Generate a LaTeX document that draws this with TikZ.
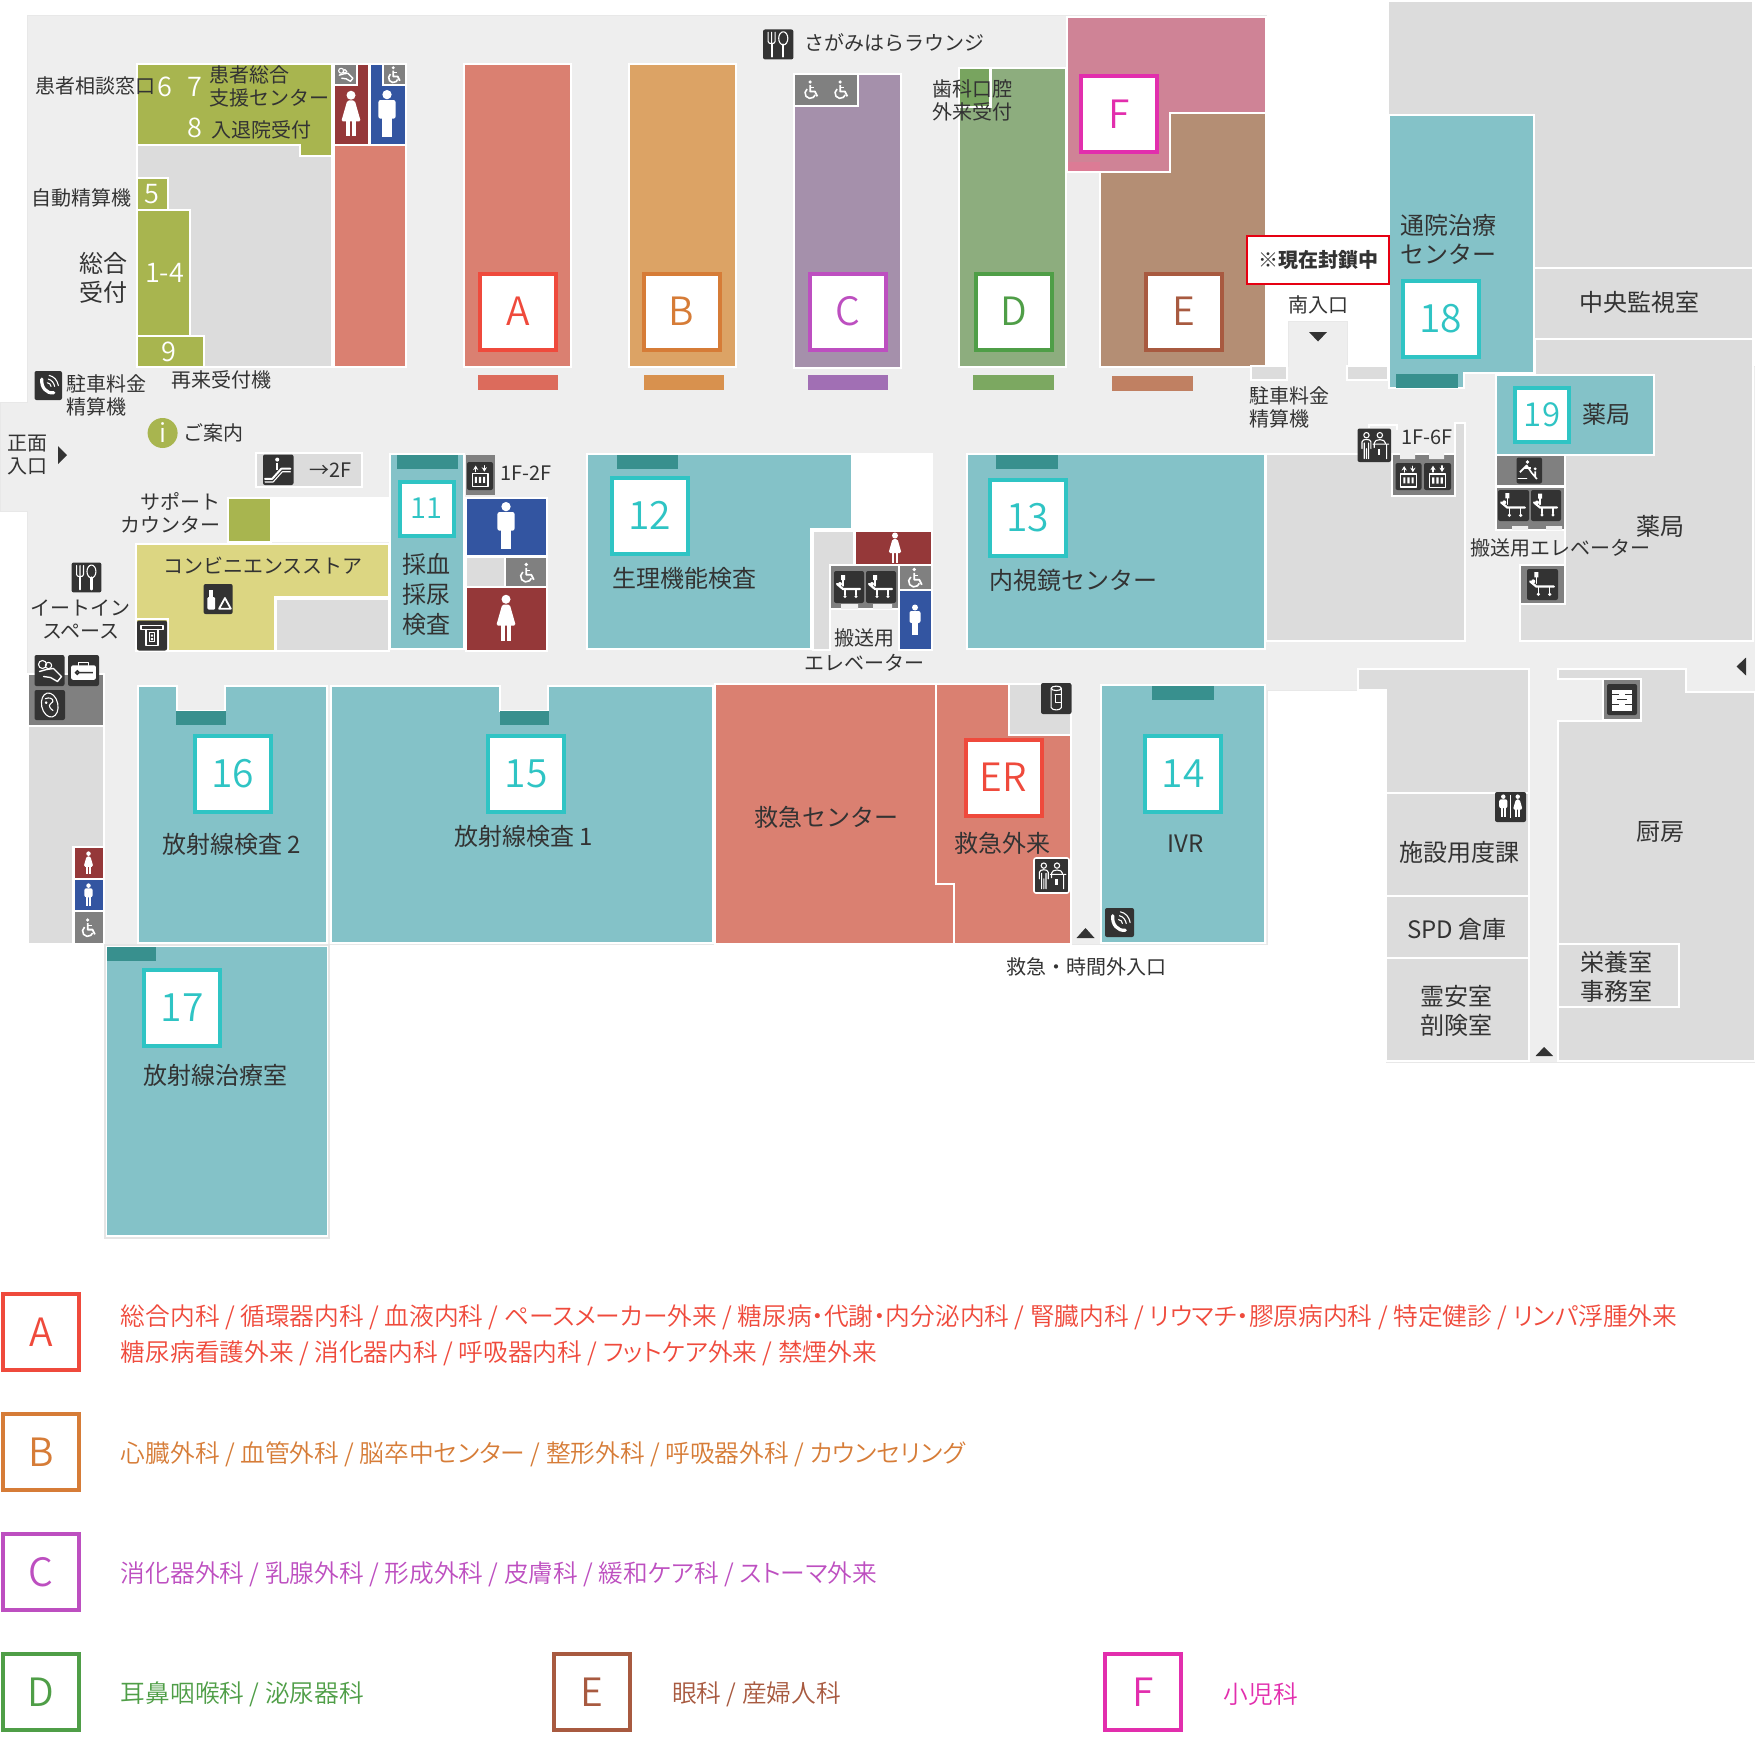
\documentclass[tikz,border=0pt]{standalone}
\usepackage{fontspec}
\setmainfont{Noto Sans CJK JP}
\newfontfamily\lightf[RawFeature=+palt]{Noto Sans CJK JP DemiLight}
\newfontfamily\lightn{Noto Sans CJK JP DemiLight}
\usetikzlibrary{arrows.meta}
\definecolor{floorc}{HTML}{EEEEEE}
\definecolor{greyr}{HTML}{DCDCDC}
\definecolor{midg}{HTML}{808080}
\definecolor{darki}{HTML}{333333}
\definecolor{ink}{HTML}{333333}
\definecolor{tealr}{HTML}{84C2C8}
\definecolor{tealb}{HTML}{38908E}
\definecolor{teald}{HTML}{2FC4C4}
\definecolor{greenr}{HTML}{A8B54F}
\definecolor{redr}{HTML}{DA8071}
\definecolor{maroon}{HTML}{953839}
\definecolor{bluer}{HTML}{3355A1}
\definecolor{yellr}{HTML}{DCD682}
\definecolor{cA}{HTML}{EF4A3C}
\definecolor{cB}{HTML}{D67C37}
\definecolor{cC}{HTML}{BD4FC0}
\definecolor{cD}{HTML}{4F9E47}
\definecolor{cE}{HTML}{A85A40}
\definecolor{cF}{HTML}{E22EAD}
\definecolor{wardB}{HTML}{DCA365}
\definecolor{wardC}{HTML}{A590AB}
\definecolor{wardD}{HTML}{8DAD7E}
\definecolor{wardDd}{HTML}{78A45F}
\definecolor{wardE}{HTML}{B48E74}
\definecolor{wardF}{HTML}{CF8396}
\definecolor{wardFd}{HTML}{DC7B95}
\definecolor{barA}{HTML}{DC6B5C}
\definecolor{barB}{HTML}{D8914E}
\definecolor{barC}{HTML}{A16FB4}
\definecolor{barD}{HTML}{7CA861}
\definecolor{barE}{HTML}{C08062}
\definecolor{closedred}{HTML}{E60012}
\newcounter{nn}
\tikzset{
  room/.style={draw=white,line width=1.1pt,line join=miter},
  lab/.style={inner sep=0pt,text=ink,font=\fontsize{10}{11.5}\selectfont,align=left,anchor=center},
  big/.style={font=\fontsize{12}{14.5}\selectfont},
  lef/.style={anchor=west},
  badgebox/.style={draw=#1,text=#1,fill=white,line width=2pt,inner sep=0pt},
  gl/.style={white,line width=.55pt,line cap=round,line join=round},
  whitenum/.style={inner sep=0pt,text=white,font=\lightn\fontsize{13.5}{15}\selectfont},
  legend/.style={inner sep=0pt,anchor=west,align=left,font=\lightf\fontsize{12.35}{18}\selectfont}
}
\newcommand\Lab[4][]{\stepcounter{nn}\node[lab,#1] (t\thenn) at (#2,#3) {#4};}
\newcommand\Badge[6][19.5]{\stepcounter{nn}\node[badgebox=#5,minimum width=#4pt,minimum height=#4pt,font=\lightn\fontsize{#1}{20}\selectfont] (b\thenn) at (#2,#3) {\raisebox{-.6pt}{#6}};}
\newcommand\Rm[5]{\draw[room,fill=#1] (#2,#3) rectangle (#4,#5);}
\newcommand\Fl[5]{\fill[#1] (#2,#3) rectangle (#4,#5);}
\newcommand\Ico[5]{\fill[darki,rounded corners=1pt] (#1,#2) rectangle (#3,#4);
  \begin{scope}[shift={({(#1+#3)/2},{(#2+#4)/2})},scale={(#3-#1)/30}]#5\end{scope}}
\newcommand\Male[3]{\begin{scope}[shift={(#1,#2)},scale=#3]
  \fill[white] (0,-12.5) circle (3);
  \fill[white,rounded corners=1pt] (-5.5,-9) rectangle (5.5,3);
  \fill[white] (-3.2,2) rectangle (-.3,15);\fill[white] (.3,2) rectangle (3.2,15);
  \end{scope}}
\newcommand\Female[3]{\begin{scope}[shift={(#1,#2)},scale=#3]
  \fill[white] (0,-12.5) circle (3);
  \fill[white,rounded corners=.8pt] (-2.5,-9) -- (2.5,-9) -- (6.5,5) -- (-6.5,5) -- cycle;
  \fill[white] (-3.2,4) rectangle (-.7,15);\fill[white] (.7,4) rectangle (3.2,15);
  \end{scope}}
\newcommand\Wheel[3]{\begin{scope}[shift={(#1,#2)},scale=#3]
  \fill[white] (-1,-10) circle (2.2);
  \draw[white,line width=.9pt,line join=round] (-1,-6) -- (-1,2) -- (5,2) -- (8,8);
  \draw[white,line width=.6pt] (-1,-3) -- (4,-3);
  \draw[white,line width=.8pt] (-4.9,-1.2) arc[start angle=-127,end angle=-340,radius=6.5];
  \end{scope}}
\newcommand\gCut{\draw[gl] (-10,-12)--(-10,-3) .. controls (-10,0) and (-3,0) .. (-3,-3) -- (-3,-12) (-6.5,-12)--(-6.5,-2);
  \draw[gl,line width=1.1pt] (-6.5,0)--(-6.5,12);
  \draw[gl] (5,-6) ellipse [x radius=4.5,y radius=6.5];
  \draw[gl,line width=1.1pt] (5,0)--(5,12);}
\newcommand\gPhone{\draw[white,line width=1.6pt,line cap=round] (-7,-7) .. controls (-8,2) and (-2,9) .. (6,8);
  \draw[gl] (0,-7) .. controls (4,-6) and (6,-3) .. (7,1) (1,-11) .. controls (6,-10) and (10,-6) .. (11,0) (-1,-3) .. controls (1,-3) and (3,-1) .. (3,1);}
\newcommand\gStretch{\draw[white,line width=1.1pt,line cap=round,line join=round] (-12,-3)--(-6,2)--(11,2);
  \draw[gl] (-6,-10)--(-6,-1) (-4,2)--(-4,8) (7,2)--(7,8);
  \fill[white] (-8,-12) rectangle (-4,-7) (-9,-3) circle (2) (-4,9.5) circle (1.7) (7,9.5) circle (1.7);}
\newcommand\gLift{\draw[gl,-{Stealth[length=2.2pt,width=2.6pt]}] (-5,-5)--(-5,-12);
  \draw[gl,-{Stealth[length=2.2pt,width=2.6pt]}] (5,-12)--(5,-5);
  \draw[gl,line width=.7pt] (-9,-3) rectangle (9,12);
  \fill[white] (-6,1) rectangle (-3.5,8) (-1.2,1) rectangle (1.2,8) (3.5,1) rectangle (6,8);}
\newcommand\gEsc{\draw[white,line width=1pt,line join=round,line cap=round] (-13,9)--(-6,9)--(3,-1)--(12,-1);
  \draw[gl] (-13,12)--(-5,12)--(4,2)--(12,2);
  \fill[white] (-1,-10) circle (2);\draw[white,line width=1pt] (-1,-7)--(-1,0);}
\newcommand\gInfo{\draw[gl] (-7,-9) circle (2.4) (5,-9) circle (2.4);
  \draw[gl] (-11,3)--(-11,-3) .. controls (-11,-6) and (-3,-6) .. (-3,-3) -- (-3,3) (-9,-2)--(-9,12) (-5,-2)--(-5,12) (-7,3)--(-7,12);
  \draw[gl] (0,-2) .. controls (0,-6) and (10,-6) .. (10,-2) (-1,-1)--(13,-1) (11,-1)--(11,12) (0,-1)--(0,2);
  \fill[white] (3.5,3) rectangle (5.5,9);}
\newcommand\gATM{\draw[gl,line width=.7pt] (-11,-10) rectangle (11,-6) (-6,-6) -- (-6,10) -- (6,10) -- (6,-6) (-2.5,-3) rectangle (2.5,6);
  \fill[white] (-1.2,-1) rectangle (1.2,1) (-1.2,2.5) rectangle (1.2,4.5);}
\newcommand\gBottle{\fill[white,rounded corners=.6pt] (-11,-2) rectangle (-3,11);\fill[white] (-9,-9) rectangle (-5,-2);
  \draw[gl,line width=.9pt] (1,10)--(7,-1)--(13,10)--cycle;}
\newcommand\gHand{\draw[gl] (-7,-6) circle (4) (-1,-5) circle (3.2);
  \draw[gl,line width=.7pt] (-10,1)--(-3,-1)--(4,-2)--(12,6)--(8,11)--(1,7)--(-6,6);}
\newcommand\gCase{\fill[white,rounded corners=1pt] (-12,-5) rectangle (12,9);\draw[gl] (-5,-5)--(-5,-8)--(5,-8)--(5,-5);
  \draw[darki,line width=.8pt] (-6,2) circle (1.6) (-4,2)--(9,2);}
\newcommand\gBaby{\draw[gl,rotate=12] (0,0) ellipse [x radius=8,y radius=12];\draw[gl,rotate=12] (-3,-7) .. controls (5,-8) and (6,-2) .. (1,-1) .. controls (-2,0) and (0,4) .. (2,6) (-3,-3) circle (.8);}
\newcommand\gCan{\draw[gl] (0,-10) ellipse [x radius=5,y radius=2.2];\draw[gl] (-5,-10)--(-5,9) .. controls (-4,12) and (4,12) .. (5,9) -- (5,-10);
  \draw[gl] (-1,-4)--(5,-4) (-1,-4)--(-1,4)--(5,4);}
\newcommand\gShelf{\fill[white] (-10,-10) rectangle (10,11);
  \draw[darki,line width=.7pt] (-10,-5)--(-3,-5) (3,-5)--(10,-5) (-5,0)--(5,0) (-10,5)--(-3,5) (3,5)--(10,5);}
\newcommand\gWC{\Male{-7}{-1}{.72}\Female{7}{-1}{.72}\draw[white,line width=.7pt] (0,-12)--(0,11);}
\newcommand\gStairs{\fill[white] (-2,-10) circle (2.2) (7,-2) circle (1.8);
  \draw[white,line width=.8pt,line join=round] (-11,2)--(-3,-6)--(3,3)--(9,10) (-6,-3)--(2,-3) (7,1)--(7,8);
  \draw[gl] (-13,9)--(-3,9);}
\begin{document}
\begin{tikzpicture}[x=.5pt,y=-.5pt]
\useasboundingbox (0,0) rectangle (1755,1744);
% floor
\draw[fill=floorc,draw=black!9,line width=.5pt] (0,402)--(27,402)--(27,16)--(1266,16)--(1266,366)--(1288,366)--(1288,321)--(1347,321)--(1347,366)--(1388,366)--(1755,366)--(1755,1062)--(1386,1062)--(1386,690)--(1267,690)--(1267,944)--(27,944)--(27,511)--(0,511)--cycle;
% -------- upper-left block
\Rm{greyr}{137}{145}{332}{367}
\draw[room,fill=greenr] (137,64)--(332,64)--(332,156)--(300,156)--(300,145)--(137,145)--cycle;
\Rm{greenr}{137}{178}{168}{210}
\Rm{greenr}{137}{210}{190}{336}
\Rm{greenr}{137}{336}{204}{367}
\Rm{redr}{334}{145}{406}{367}
\Rm{maroon}{334}{64}{369}{145}
\Rm{bluer}{370}{64}{406}{145}
\Rm{midg}{334}{64}{357}{85}
\Rm{midg}{383}{64}{406}{85}
\begin{scope}[shift={(345.5,74.5)},scale=.62]\gHand\end{scope}
\Wheel{394}{75}{.72}
\Female{351}{114}{1.5}
\Male{387}{114}{1.55}
% main wards
\Rm{redr}{464}{64}{571}{367}
\Rm{wardB}{629}{64}{736}{367}
\Rm{wardC}{794}{74}{901}{368}
\Rm{midg}{794}{74}{858}{106}
\Wheel{811}{90}{.8}
\Wheel{841}{90}{.8}
\Rm{wardD}{959}{68}{1066}{367}
\Rm{wardDd}{959}{68}{990.5}{107}
\draw[room,fill=wardF] (1067,17)--(1266,17)--(1266,113)--(1170,113)--(1170,172)--(1067,172)--cycle;
\Fl{wardFd}{1068}{162}{1100}{171}
\draw[room,fill=wardE] (1100,172)--(1170,172)--(1170,113)--(1266,113)--(1266,367)--(1100,367)--cycle;
\Badge{518}{311.5}{38}{cA}{A}
\Badge{681.5}{311.5}{38}{cB}{B}
\Badge{847.5}{311.5}{38}{cC}{C}
\Badge{1013.5}{311.5}{38}{cD}{D}
\Badge{1183.5}{311.5}{38}{cE}{E}
\Badge{1119}{114}{38}{cF}{F}
\Fl{barA}{478}{375}{558}{390}
\Fl{barB}{644}{375}{724}{390}
\Fl{barC}{808}{375}{888}{390}
\Fl{barD}{973}{375}{1054}{390}
\Fl{barE}{1112}{376}{1193}{391}
\Ico{763}{29.5}{793.4}{59.4}{\gCut}
% -------- second row left
\fill[white] (228,497) rectangle (390,542);
\Rm{greenr}{228}{498}{271}{542}
\draw[room,fill=yellr] (136,544)--(389,544)--(389,597)--(275,597)--(275,651)--(136,651)--cycle;
\Rm{greyr}{276}{599}{389}{651}
\Rm{tealr}{390}{454}{464}{649}
\Fl{tealb}{397}{455}{458}{469}
\Badge[14.5]{426.7}{508.5}{27}{teald}{11}
\Fl{midg}{466}{455}{495}{495}
\Rm{bluer}{466}{498}{547}{556}
\Rm{greyr}{466}{557}{505}{587}
\Rm{midg}{505}{557}{547}{587}
\Rm{maroon}{466}{587}{547}{651}
\Ico{467}{462}{493}{490}{\gLift}
\Male{506}{526}{1.55}
\Female{506}{618}{1.5}
\Wheel{527}{573}{.85}
% escalator, icons near entrance
\Rm{greyr}{256}{453}{362}{487}
\Ico{263}{454.5}{293.5}{485}{\gEsc}
\Ico{34.5}{371}{62}{400}{\gPhone}
\fill[greenr] (162.6,433) circle (15);
\node[inner sep=0pt,text=white,font=\lightn\fontsize{13}{14}\selectfont] (iinfo) at (162.6,433) {i};
\fill[ink] (58,446)--(67,455)--(58,464)--cycle;
\Ico{203.6}{584}{232.7}{614}{\gBottle}
\draw[white,line width=.8pt] (136,619) rectangle (168,651);
\Ico{137}{620.5}{167}{650.5}{\gATM}
\Ico{71.6}{562.5}{101.4}{592.4}{\gCut}
% left lower block
\Rm{midg}{28}{674}{104}{726}
\Rm{greyr}{28}{726}{104}{944}
\Rm{maroon}{73.5}{847}{104}{879}
\Rm{bluer}{73.5}{879}{104}{911}
\Rm{midg}{73.5}{911}{104}{944}
\Ico{34.5}{655}{64.5}{686}{\gHand}
\Ico{68}{655}{99}{686}{\gCase}
\Ico{34.5}{690}{65}{720}{\gBaby}
\Female{88.5}{863}{.75}
\Male{88.5}{895}{.75}
\Wheel{88.5}{928}{.8}
% -------- second row 12/13
\fill[white] (852,453) rectangle (933,532);
\draw[room,fill=tealr] (587,454)--(852,454)--(852,529)--(811,529)--(811,649)--(587,649)--cycle;
\Fl{tealb}{617}{455}{677.5}{469}
\Badge{649.5}{515.5}{38}{teald}{12}
\draw[room,fill=greyr] (813,531)--(854,531)--(854,565)--(830,565)--(830,650)--(813,650)--cycle;
\Rm{maroon}{855}{531}{932}{565}
\Rm{midg}{830}{565}{899}{609}
\fill[floorc] (841,604) rectangle (858,609) (873,604) rectangle (892,609);
\Ico{834}{571}{864}{603}{\gStretch}
\Ico{866}{571}{896}{603}{\gStretch}
\Rm{midg}{899}{565}{932}{590}
\Rm{bluer}{899}{590}{932}{650}
\Female{895}{548}{1}
\Wheel{915}{578}{.85}
\Male{915}{620}{1}
\Rm{tealr}{967}{454}{1265}{649}
\Fl{tealb}{996}{455}{1057.5}{469}
\Badge{1027.5}{517.5}{38}{teald}{13}
% -------- right block
\draw[room,fill=greyr] (1388,1)--(1753,1)--(1753,268)--(1534,268)--(1534,373)--(1388,373)--cycle;
\Rm{greyr}{1534}{268}{1753}{339}
\draw[room,fill=greyr] (1535,339)--(1753,339)--(1753,641)--(1520,641)--(1520,603)--(1565,603)--(1565,455)--(1654,455)--(1654,375)--(1535,375)--cycle;
\draw[room,fill=tealr] (1389,115)--(1534,115)--(1534,373)--(1464,373)--(1464,388)--(1389,388)--cycle;
\Fl{tealb}{1396}{374}{1458}{388}
\Badge{1440.5}{318.5}{38}{teald}{18}
\Rm{tealr}{1496}{375}{1654}{455}
\Badge[16.5]{1542}{414.5}{27}{teald}{19}
\Rm{greyr}{1251}{366}{1287}{380}
\Rm{greyr}{1347}{366}{1388}{380}
\fill[ink] (1309,332)--(1327,332)--(1318,341.5)--cycle;
\Rm{midg}{1496}{455}{1565}{486}
\Ico{1516.5}{457.5}{1542}{483.5}{\gStairs}
\Rm{midg}{1496}{487}{1565}{530}
\fill[floorc] (1512,526) rectangle (1528,530) (1546,526) rectangle (1562,530);
\Ico{1498}{490}{1529}{521}{\gStretch}
\Ico{1531}{490}{1561}{521}{\gStretch}
\Rm{midg}{1520}{565}{1565}{604}
\Ico{1527}{569}{1558}{600}{\gStretch}
% centre-right grey with lifts
\draw[room,fill=greyr] (1266,454)--(1392,454)--(1392,496)--(1455,496)--(1455,423)--(1465,423)--(1465,641)--(1266,641)--cycle;
\Rm{midg}{1392}{454}{1455}{496}
\fill[floorc] (1400,453) rectangle (1415,459) (1429,453) rectangle (1444,459);
\Ico{1395.5}{463}{1421.5}{490}{\gLift}
\Ico{1424}{463}{1451}{490}{\gLift}
\draw[white,line width=1pt] (1369,428)--(1369,425)--(1397,425)--(1397,430);
\Ico{1357.5}{428.5}{1391}{462}{\gInfo}
\fill[ink] (1736.5,666.5)--(1746,657.5)--(1746,675.5)--cycle;
% closed notice
\node[draw=closedred,line width=1.2pt,fill=white,inner sep=0pt,minimum width=71pt,minimum height=24pt,text=ink,font=\bfseries\fontsize{10}{12}\selectfont] (closed) at (1318,260) {※現在封鎖中};
% -------- lower row
\draw[room,fill=tealr] (138,686)--(177,686)--(177,711)--(225,711)--(225,686)--(327,686)--(327,943)--(138,943)--cycle;
\Fl{tealb}{176}{711}{226}{725}
\Badge{232.5}{774}{38}{teald}{16}
\draw[room,fill=tealr] (331,686)--(500,686)--(500,711)--(548,711)--(548,686)--(713,686)--(713,943)--(331,943)--cycle;
\Fl{tealb}{499.5}{711}{549}{725}
\Badge{526}{774}{38}{teald}{15}
\draw[draw=black!10,line width=1pt,fill=white] (105,945) rectangle (329,1238);
\fill[tealr] (107,947) rectangle (327,1235);
\Fl{tealb}{107}{947}{156}{961}
\Badge{182}{1008}{38}{teald}{17}
\draw[room,fill=redr] (715,684)--(936,684)--(936,884)--(954,884)--(954,944)--(715,944)--cycle;
\draw[room,fill=redr] (936,684)--(1009,684)--(1009,735)--(1071,735)--(1071,944)--(954,944)--(954,884)--(936,884)--cycle;
\Rm{greyr}{1009}{684}{1071}{735}
\Ico{1041}{683}{1071.5}{714}{\gCan}
\Badge{1003.5}{777.5}{38}{cA}{ER}
\draw[white,line width=.8pt,fill=darki,rounded corners=1pt] (1034,858) rectangle (1069,893);
\begin{scope}[shift={(1051.5,875.5)},scale=1.1]\gInfo\end{scope}
\fill[ink] (1076.5,938)--(1085.5,928)--(1094.5,938)--cycle;
\Rm{tealr}{1101}{685}{1265}{943}
\Fl{tealb}{1152}{686}{1213.5}{700}
\Badge{1183}{773.5}{38}{teald}{14}
\Ico{1105}{908}{1134}{937}{\gPhone}
% -------- lower right
\draw[room,fill=greyr] (1358,669)--(1529,669)--(1529,793)--(1386,793)--(1386,690)--(1358,690)--cycle;
\Rm{greyr}{1386}{793}{1529}{896}
\Rm{greyr}{1386}{896}{1529}{958}
\Rm{greyr}{1386}{958}{1529}{1061}
\draw[room,fill=greyr] (1558,669)--(1686,669)--(1686,692)--(1755,692)--(1755,1061)--(1558,1061)--(1558,721)--(1641,721)--(1641,679)--(1558,679)--cycle;
\Rm{greyr}{1558}{944}{1679}{1007}
\Rm{midg}{1603}{679}{1641}{720}
\Ico{1607}{684}{1637}{715}{\gShelf}
\Ico{1495}{792}{1526}{822}{\gWC}
\fill[ink] (1535.5,1056)--(1544,1047)--(1553,1056)--cycle;
% -------- text labels on the plan
\Lab[lef]{35}{86}{患者相談窓口}
\node[whitenum] (n6) at (164.5,87) {6};
\node[whitenum] (n7) at (194.5,87) {7};
\node[whitenum] (n8) at (194.5,128) {8};
\Lab[lef]{209}{86.5}{患者総合\\支援センター}
\Lab[lef]{211}{129.5}{入退院受付}
\Lab[lef]{31}{197.5}{自動精算機}
\node[whitenum] (n5) at (152,194) {5};
\node[whitenum] (n14) at (164.5,273) {1-4};
\node[whitenum] (n9) at (169,352) {9};
\Lab[big,align=center]{103.5}{278}{総合\\受付}
\Lab[lef]{171.5}{380}{再来受付機}
\Lab[lef]{66}{395}{駐車料金\\精算機}
\Lab[lef]{7}{455}{正面\\入口}
\Lab[lef]{183}{433}{ご案内}
\Lab[lef]{309}{470}{→2F}
\Lab[anchor=east,align=right]{221}{513}{サポート\\カウンター}
\Lab{263}{566}{コンビニエンスストア}
\Lab[align=center]{81}{619}{イートイン\\スペース}
\Lab[lef]{500}{473}{1F-2F}
\Lab[big,align=center,font=\fontsize{12}{14.8}\selectfont]{426.7}{594.5}{採血\\採尿\\検査}
\Lab[lef]{804}{43}{さがみはらラウンジ}
\Lab[lef]{932}{100}{歯科口腔\\外来受付}
\Lab[lef,big]{611.7}{578}{生理機能検査}
\Lab[align=center,font=\fontsize{10}{12.5}\selectfont]{864}{650}{搬送用\\エレベーター}
\Lab[lef,big]{989.4}{580}{内視鏡センター}
\Lab{1318}{305}{南入口}
\Lab[lef]{1249}{407}{駐車料金\\精算機}
\Lab{1426.6}{437.5}{1F-6F}
\Lab[lef,big]{1400}{239}{通院治療\\センター}
\Lab[big]{1639.5}{302}{中央監視室}
\Lab[lef,big]{1582}{414}{薬局}
\Lab[big]{1660}{526}{薬局}
\Lab{1560}{547.5}{搬送用エレベーター}
\Lab[big]{231.5}{844.5}{放射線検査 2}
\Lab[big]{523.5}{836.5}{放射線検査 1}
\Lab[big]{215}{1075.5}{放射線治療室}
\Lab[big]{826}{817}{救急センター}
\Lab[big]{1002.6}{843}{救急外来}
\Lab[big]{1185.7}{844}{IVR}
\Lab{1086}{967}{救急・時間外入口}
\Lab[big]{1459}{852}{施設用度課}
\Lab[big]{1457}{929}{SPD 倉庫}
\Lab[big,align=center]{1456}{1010.5}{霊安室\\剖険室}
\Lab[big]{1660.5}{832}{厨房}
\Lab[big,align=center]{1616}{976.5}{栄養室\\事務室}
% -------- legend
\Badge{41}{1332}{38}{cA}{A}
\Badge{41}{1452}{38}{cB}{B}
\Badge{41}{1572}{38}{cC}{C}
\Badge{41}{1692}{38}{cD}{D}
\Badge{591.5}{1692}{38}{cE}{E}
\Badge{1143}{1692}{38}{cF}{F}
\node[legend,text=cA] (la) at (120.5,1335) {総合内科 / 循環器内科 / 血液内科 / ペースメーカー外来 / 糖尿病・代謝・内分泌内科 / 腎臓内科 / リウマチ・膠原病内科 / 特定健診 / リンパ浮腫外来\\糖尿病看護外来 / 消化器内科 / 呼吸器内科 / フットケア外来 / 禁煙外来};
\node[legend,text=cB] (lb) at (120.5,1454) {心臓外科 / 血管外科 / 脳卒中センター / 整形外科 / 呼吸器外科 / カウンセリング};
\node[legend,text=cC] (lc) at (120.5,1574) {消化器外科 / 乳腺外科 / 形成外科 / 皮膚科 / 緩和ケア科 / ストーマ外来};
\node[legend,text=cD] (ld) at (120.5,1694) {耳鼻咽喉科 / 泌尿器科};
\node[legend,text=cE] (le) at (671.6,1694) {眼科 / 産婦人科};
\node[legend,text=cF] (lf) at (1223.5,1694) {小児科};
\end{tikzpicture}
\end{document}
